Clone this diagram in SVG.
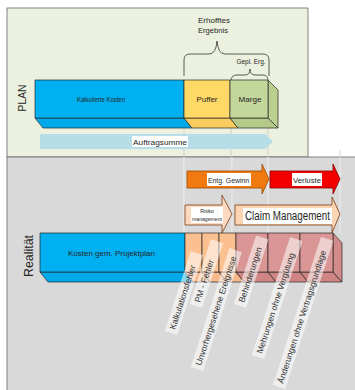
<svg xmlns="http://www.w3.org/2000/svg" width="355" height="390" viewBox="0 0 355 390">
  <style>
    .t { font-family: "Liberation Sans", Arial, sans-serif; fill: #262626; }
    .edge { stroke: #262626; stroke-width: 0.7; stroke-linejoin: round; }
    .guide { stroke: #C9C9C9; stroke-width: 0.8; }
    .guide-low { stroke: #EEEEEE; stroke-width: 1; }
    .brace { fill: none; stroke: #333; stroke-width: 0.8; }
    .tag { fill: #FFFFFF; fill-opacity: 0.55; }
    .tagtext { font-family: "Liberation Sans", Arial, sans-serif; font-size: 8.5px; fill: #333; }
    .lbl { fill: #FFFFFF; }
  </style>

  <rect width="355" height="390" fill="#FFFFFF"/>

  <!-- panels -->
  <g id="panel-plan">
    <rect x="7" y="8" width="301" height="149" fill="#EBF1DE" stroke="#666" stroke-width="0.8"/>
    <text class="t" transform="translate(26,98) rotate(-90)" text-anchor="middle" font-size="11" textLength="27" lengthAdjust="spacingAndGlyphs">PLAN</text>
  </g>
  <g id="panel-realitaet">
    <rect x="7" y="157" width="352" height="236" fill="#D9D9D9" stroke="#666" stroke-width="0.8"/>
    <text class="t" transform="translate(33,256) rotate(-90)" text-anchor="middle" font-size="12" textLength="42" lengthAdjust="spacingAndGlyphs">Realität</text>
  </g>

  <!-- guide lines -->
  <g id="connectors">
    <line class="guide" x1="184" y1="128" x2="184" y2="157"/>
    <line class="guide" x1="231" y1="128" x2="231" y2="157"/>
    <line class="guide" x1="268" y1="128" x2="268" y2="157"/>
    <line class="guide" x1="340" y1="150" x2="340" y2="157"/>
    <line class="guide-low" x1="184" y1="157" x2="184" y2="233"/>
    <line class="guide-low" x1="232" y1="157" x2="232" y2="233"/>
    <line class="guide-low" x1="268" y1="157" x2="268" y2="233"/>
    <line class="guide-low" x1="340" y1="157" x2="340" y2="233"/>
  </g>

  <!-- braces -->
  <g id="erhofftes-ergebnis">
    <path class="brace" d="M184,76 V60 Q184,54 190,54 H209 Q216,54 217,41 Q218,54 225,54 H263 Q269,54 269,60 V76"/>
    <text class="t" x="214" y="23" text-anchor="middle" font-size="8" textLength="32" lengthAdjust="spacingAndGlyphs">Erhofftes</text>
    <text class="t" x="213" y="33" text-anchor="middle" font-size="8" textLength="30" lengthAdjust="spacingAndGlyphs">Ergebnis</text>
  </g>
  <g id="gepl-erg">
    <path class="brace" d="M231,81 Q231,75 237,75 H245 Q250,75 250,69 Q250,75 255,75 H263 Q268,75 268,81"/>
    <text class="t" x="251" y="64" text-anchor="middle" font-size="8" textLength="29" lengthAdjust="spacingAndGlyphs">Gepl. Erg.</text>
  </g>

  <!-- plan bar -->
  <g id="kalkulierte-kosten">
    <polygon class="edge" points="35,118 43,128 192,128 184,118" fill="#00A9EA"/>
    <rect class="edge" x="35" y="80" width="149" height="38" fill="#00B0F0"/>
    <text class="t" x="101" y="102" text-anchor="middle" font-size="8" textLength="48" lengthAdjust="spacingAndGlyphs">Kalkulierte Kosten</text>
  </g>
  <g id="puffer">
    <polygon class="edge" points="184,118 192,128 238,128 230,118" fill="#F8CC5E"/>
    <rect class="edge" x="184" y="80" width="46" height="38" fill="#FFD966"/>
    <text class="t" x="207" y="102" text-anchor="middle" font-size="8" textLength="21" lengthAdjust="spacingAndGlyphs">Puffer</text>
  </g>
  <g id="marge">
    <polygon class="edge" points="230,118 238,128 278,128 268,118" fill="#B5CA88"/>
    <polygon class="edge" points="268,80 278,90 278,128 268,118" fill="#BBCF8F"/>
    <rect class="edge" x="230" y="80" width="38" height="38" fill="#C4D79B"/>
    <text class="t" x="250" y="102" text-anchor="middle" font-size="8" textLength="23" lengthAdjust="spacingAndGlyphs">Marge</text>
  </g>
  <g id="auftragsumme">
    <polygon points="40,134 265,134 273,141.5 265,149 40,149" fill="#B7DDE9"/>
    <rect class="lbl" x="132" y="136" width="56" height="11"/>
    <text class="t" x="160" y="144.5" text-anchor="middle" font-size="8" textLength="54" lengthAdjust="spacingAndGlyphs">Auftragsumme</text>
  </g>

  <!-- arrows in the lower panel -->
  <g id="entg-gewinn">
    <polygon points="187,171 262,171 262,164 269,179 262,194 262,188 187,188" fill="#F07A10" stroke="#9A4A00" stroke-width="0.8"/>
    <rect class="lbl" x="207" y="173" width="44" height="13"/>
    <text class="t" x="228.5" y="182.5" text-anchor="middle" font-size="8" textLength="41" lengthAdjust="spacingAndGlyphs">Entg. Gewinn</text>
  </g>
  <g id="verluste">
    <polygon points="270,171 333,171 333,164 340,179 333,194 333,188 270,188" fill="#F20000" stroke="#8A0000" stroke-width="0.8"/>
    <rect class="lbl" x="292" y="173" width="30" height="13"/>
    <text class="t" x="307" y="182.5" text-anchor="middle" font-size="8" textLength="28" lengthAdjust="spacingAndGlyphs">Verluste</text>
  </g>
  <g id="risiko-management">
    <polygon points="185,205 222,205 222,195 232,214 222,233 222,225 185,225" fill="#FCD9BE" stroke="#7A3A14" stroke-width="0.8"/>
    <rect class="lbl" x="191" y="207" width="32" height="16"/>
    <text class="t" x="207" y="213" text-anchor="middle" font-size="5">Risiko</text>
    <text class="t" x="207" y="220.5" text-anchor="middle" font-size="5" textLength="30" lengthAdjust="spacingAndGlyphs">management</text>
  </g>
  <g id="claim-management">
    <polygon points="235,205 332,205 332,197 340,214 332,233 332,225 235,225" fill="#FCD5B4" stroke="#7A3A14" stroke-width="0.8"/>
    <rect class="lbl" x="243" y="208" width="89" height="16"/>
    <text class="t" x="287.5" y="220" text-anchor="middle" font-size="12" textLength="85" lengthAdjust="spacingAndGlyphs">Claim Management</text>
  </g>

  <!-- lower bar -->
  <g id="kosten-projektplan">
    <polygon class="edge" points="40,272 48,282 193,282 185,272" fill="#00A9EA"/>
    <rect class="edge" x="40" y="233" width="145" height="39" fill="#00B0F0"/>
    <text class="t" x="111.5" y="256" text-anchor="middle" font-size="8" textLength="87" lengthAdjust="spacingAndGlyphs">Kosten gem. Projektplan</text>
  </g>
  <g id="segmente-risiko">
    <polygon class="edge" points="185,272 193,282 210,282 202,272" fill="#F6B98A"/>
    <polygon class="edge" points="202,272 210,282 227,282 219,272" fill="#F6B98A"/>
    <polygon class="edge" points="219,272 227,282 244,282 236,272" fill="#F6B98A"/>
    <rect class="edge" x="185" y="233" width="17" height="39" fill="#FAC090"/>
    <rect class="edge" x="202" y="233" width="17" height="39" fill="#FAC090"/>
    <rect class="edge" x="219" y="233" width="17" height="39" fill="#FAC090"/>
  </g>
  <g id="segmente-claim">
    <polygon class="edge" points="236,272 244,282 276,282 268,272" fill="#CF8583"/>
    <polygon class="edge" points="268,272 276,282 308,282 300,272" fill="#CF8583"/>
    <polygon class="edge" points="300,272 308,282 342,282 333,272" fill="#CF8583"/>
    <polygon class="edge" points="333,233 342,243 342,282 333,272" fill="#D38B89"/>
    <rect class="edge" x="236" y="233" width="32" height="39" fill="#DA9694"/>
    <rect class="edge" x="268" y="233" width="32" height="39" fill="#DA9694"/>
    <rect class="edge" x="300" y="233" width="33" height="39" fill="#DA9694"/>
  </g>

  <!-- tilted cause labels -->
  <g id="kalkulationsfehler" transform="translate(171,333) rotate(-72)">
    <rect class="tag" x="0" y="-6.5" width="84" height="13"/>
    <text class="tagtext" x="4" y="3">Kalkulationsfehler</text>
  </g>
  <g id="pm-fehler" transform="translate(196,306) rotate(-72)">
    <rect class="tag" x="0" y="-6.5" width="68" height="13"/>
    <text class="tagtext" x="4" y="3">PM - Fehler</text>
  </g>
  <g id="unvorhergesehene-ereignisse" transform="translate(197,369) rotate(-72)">
    <rect class="tag" x="0" y="-6.5" width="125" height="13"/>
    <text class="tagtext" x="4" y="3">Unvorhergesehene Ereignisse</text>
  </g>
  <g id="behinderungen" transform="translate(240,306) rotate(-72)">
    <rect class="tag" x="0" y="-6.5" width="72" height="13"/>
    <text class="tagtext" x="4" y="3">Behinderungen</text>
  </g>
  <g id="mehrungen" transform="translate(258,357) rotate(-72)">
    <rect class="tag" x="0" y="-6.5" width="124" height="13"/>
    <text class="tagtext" x="4" y="3">Mehrungen ohne Vergütung</text>
  </g>
  <g id="aenderungen" transform="translate(279,387) rotate(-72)">
    <rect class="tag" x="0" y="-6.5" width="156" height="13"/>
    <text class="tagtext" x="4" y="3">Änderungen ohne Vertragsgrundlage</text>
  </g>
</svg>
